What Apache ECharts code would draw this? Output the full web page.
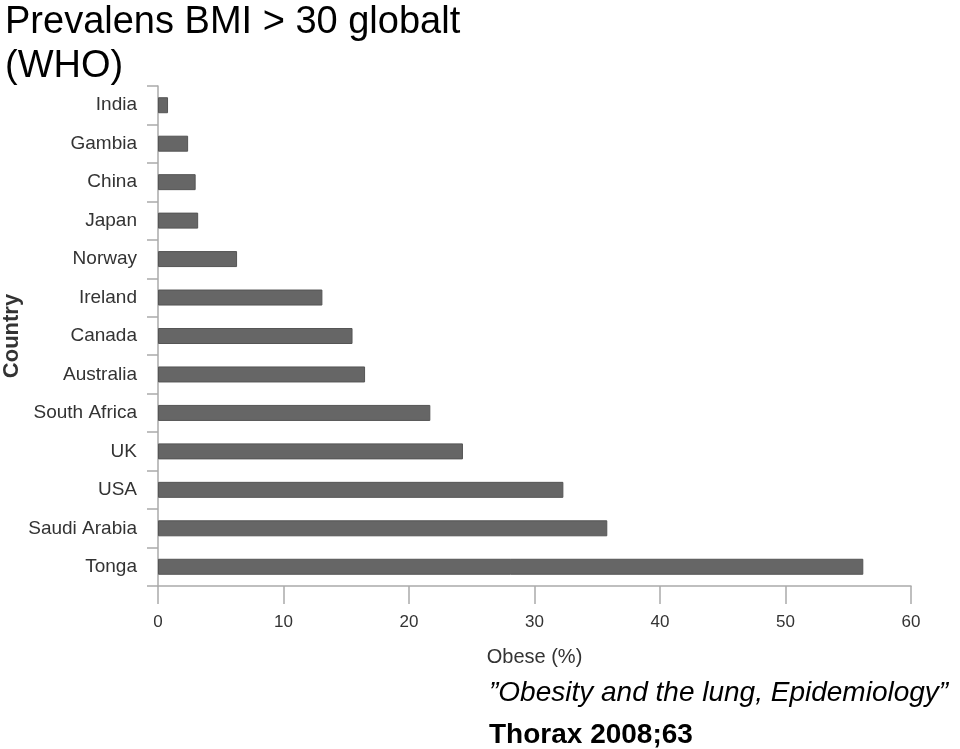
<!DOCTYPE html>
<html>
<head>
<meta charset="utf-8">
<script src="https://cdn.jsdelivr.net/npm/echarts@6/dist/echarts.min.js"></script>
<style>
html,body{margin:0;padding:0;background:#fff;}
#c{width:960px;height:749px;}
</style>
</head>
<body>
<div id="c"></div>
<script>
const countries = ["India","Gambia","China","Japan","Norway","Ireland","Canada","Australia","South Africa","UK","USA","Saudi Arabia","Tonga"];
const obese = [0.8, 2.4, 3.0, 3.2, 6.3, 13.1, 15.5, 16.5, 21.7, 24.3, 32.3, 35.8, 56.2];
const xTicks = [0, 10, 20, 30, 40, 50, 60];

const chart = echarts.init(document.getElementById('c'), null, {renderer: 'canvas'});
const labelFont = 'Liberation Sans';
chart.setOption({
  animation: false,
  backgroundColor: '#ffffff',
  title: [
    {text: 'Prevalens BMI > 30 globalt\n(WHO)', left: 0, top: -4,
     textStyle: {fontFamily: 'Liberation Sans', fontSize: 38, fontWeight: 'normal', color: '#000', lineHeight: 44}},
    {text: '\u201DObesity and the lung, Epidemiology\u201D', left: 484, top: 674,
     textStyle: {fontFamily: 'Liberation Sans', fontSize: 28, fontStyle: 'italic', fontWeight: 'normal', color: '#000'}},
    {text: 'Thorax 2008;63', left: 484, top: 716,
     textStyle: {fontFamily: 'Liberation Sans', fontSize: 28, fontWeight: 'bold', color: '#000'}}
  ],
  grid: {left: 158, top: 86, right: 49, bottom: 163, containLabel: false, outerBoundsMode: 'none'},
  xAxis: {
    type: 'value', min: 0, max: 60, interval: 10,
    name: 'Obese (%)', nameLocation: 'middle', nameGap: 61, nameMoveOverlap: false,
    nameTextStyle: {fontFamily: labelFont, fontSize: 20, color: '#333'},
    axisLine: {show: true, lineStyle: {color: '#aaa', width: 1.5}},
    axisTick: {show: true, length: 18, lineStyle: {color: '#aaa', width: 1.5}},
    axisLabel: {fontFamily: labelFont, fontSize: 17, color: '#333', margin: 28,
      formatter: v => xTicks.includes(v) ? String(v) : ''},
    splitLine: {show: false}
  },
  yAxis: {
    type: 'category', data: countries, inverse: true,
    name: 'Country', nameLocation: 'middle', nameGap: 135, nameRotate: 90, nameMoveOverlap: false,
    nameTextStyle: {fontFamily: labelFont, fontSize: 22, fontWeight: 'bold', color: '#333'},
    axisLine: {show: true, lineStyle: {color: '#aaa', width: 1.5}},
    axisTick: {show: true, length: 11, alignWithLabel: false, lineStyle: {color: '#aaa', width: 1.5}},
    axisLabel: {fontFamily: labelFont, fontSize: 19, color: '#333', margin: 21}
  },
  series: [{
    type: 'bar', data: obese, barWidth: 16,
    itemStyle: {color: '#666666', borderColor: '#555', borderWidth: 1}
  }]
});
</script>
</body>
</html>
